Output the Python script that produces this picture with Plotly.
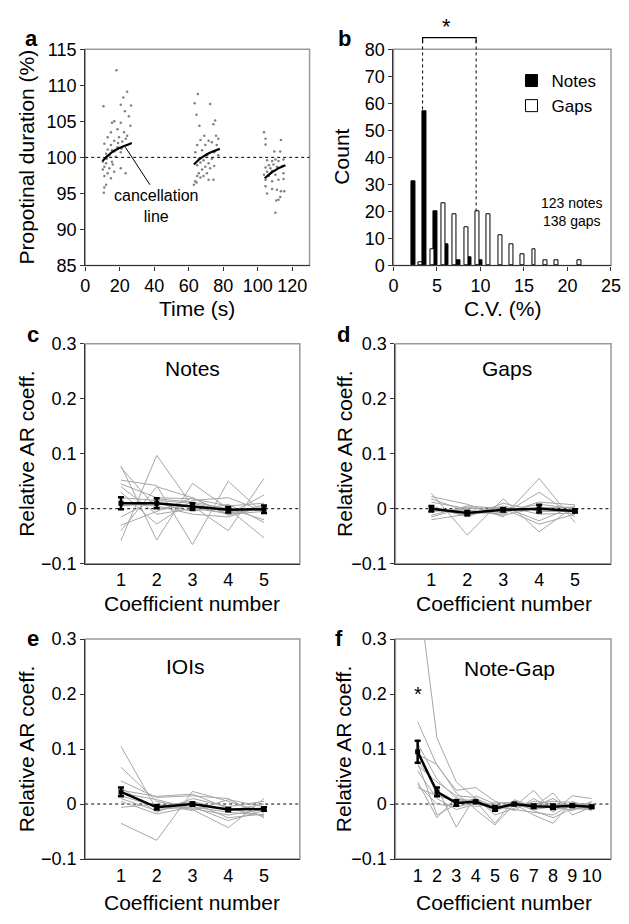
import plotly.graph_objects as go

# --- panel a: proportional duration of notes over time (three bouts) ---
bout1_t = [18.1, 24.3, 22.1, 20.6, 10.6, 26.6, 23.0, 16.8, 15.5, 20.6, 25.3, 26.2, 18.7, 14.9,
           22.5, 24.3, 13.0, 19.6, 16.8, 21.5, 11.1, 14.9, 18.7, 13.0, 15.5, 20.6, 12.1, 14.0,
           17.7, 10.2, 12.1, 15.5, 11.1, 14.0, 20.6, 10.2, 13.0, 16.8, 23.4, 11.1, 14.9, 12.1,
           11.1, 10.8, 17.0, 19.0, 21.0, 23.5, 12.5, 16.0]
bout1_v = [112.1, 109.1, 108.3, 107.3, 107.1, 107.2, 106.4, 105.0, 104.8, 104.8, 105.7, 104.4,
           103.9, 103.5, 103.5, 103.0, 102.8, 102.8, 102.3, 102.2, 101.9, 101.7, 101.4, 101.1,
           101.0, 100.7, 100.5, 100.3, 100.1, 99.4, 99.2, 99.4, 98.7, 98.5, 98.5, 98.3, 97.8,
           98.0, 97.8, 97.4, 97.1, 96.2, 95.8, 95.1, 100.8, 102.0, 101.2, 102.6, 99.8, 99.0]

bout2_t = [65.3, 63.4, 72.4, 64.5, 75.3, 74.3, 66.2, 69.0, 75.8, 77.1, 66.8, 71.5, 73.4, 64.9,
           69.6, 76.2, 67.7, 63.8, 74.7, 70.5, 77.1, 65.8, 68.6, 73.4, 66.8, 71.5, 64.9, 69.6,
           74.7, 67.7, 72.4, 65.8, 70.5, 64.9, 68.6, 74.3, 63.8, 66.8, 71.5, 63.0, 64.5]
bout2_v = [108.8, 107.5, 107.4, 105.9, 105.1, 104.6, 104.4, 103.0, 103.0, 102.6, 102.4, 102.3,
           102.1, 101.7, 101.7, 101.7, 101.0, 100.7, 100.7, 100.3, 100.3, 99.8, 99.6, 99.8, 99.3,
           99.2, 98.9, 98.7, 98.8, 98.3, 98.5, 97.8, 97.8, 97.4, 97.4, 96.9, 96.7, 97.2, 96.9,
           96.2, 96.5]

bout3_t = [103.6, 104.5, 113.4, 104.5, 109.6, 113.0, 105.4, 108.3, 110.2, 112.0, 114.9, 106.4,
           109.1, 104.5, 107.3, 111.1, 114.0, 105.4, 108.3, 103.6, 106.4, 110.2, 114.9, 104.5,
           112.0, 108.3, 114.9, 104.5, 105.4, 108.3, 111.1, 113.4, 115.3, 113.0, 112.0, 110.7,
           110.2]
bout3_v = [103.5, 102.6, 102.4, 101.8, 100.8, 100.8, 99.6, 99.5, 99.7, 99.5, 99.7, 98.9, 99.0,
           98.6, 98.5, 98.7, 98.8, 98.0, 98.1, 97.6, 97.4, 97.6, 97.8, 96.9, 96.9, 96.7, 97.0,
           96.0, 95.0, 95.6, 95.5, 95.3, 95.3, 94.5, 94.1, 94.0, 92.3]

cancel1_t = [10, 13, 16, 19, 22, 25, 27]
cancel1_v = [99.5, 100.2, 100.8, 101.2, 101.5, 101.8, 102.0]
cancel2_t = [63, 66, 69, 72, 75, 78]
cancel2_v = [99.0, 99.7, 100.2, 100.6, 100.9, 101.2]
cancel3_t = [104, 106, 108, 110, 112, 114, 116]
cancel3_v = [97.1, 97.5, 97.9, 98.2, 98.5, 98.7, 98.9]

# --- panel b: histogram of C.V. ---
notes_cv = [2.25, 3.55, 4.85, 6.15, 7.45, 8.75, 10.05]
notes_count = [31, 57, 20, 8, 2, 3, 2]
gaps_cv = [3.15, 4.45, 5.75, 7.05, 8.35, 9.65, 10.95, 12.25, 13.55, 14.85, 16.15, 17.45, 18.75, 21.35]
gaps_count = [1, 6, 23, 19, 14, 20, 19, 11, 8, 4, 6, 2, 2, 2]

# --- panels c-f: relative AR coefficients ---
coef5 = [1, 2, 3, 4, 5]
coef10 = [1, 2, 3, 4, 5, 6, 7, 8, 9, 10]

notes_lines = [
    [-0.058, 0.097, 0.005, -0.040, 0.055],
    [0.078, -0.057, 0.046, 0.000, -0.053],
    [0.052, 0.042, -0.065, 0.050, -0.010],
    [0.045, 0.020, 0.018, 0.005, 0.010],
    [-0.040, 0.040, 0.020, -0.010, 0.025],
    [0.030, -0.028, 0.015, 0.020, -0.005],
    [0.020, 0.015, 0.010, -0.005, 0.000],
    [0.010, 0.005, -0.010, -0.015, 0.005],
    [-0.015, 0.018, 0.012, 0.000, -0.020],
    [0.075, 0.000, 0.005, -0.010, -0.005],
    [-0.030, -0.005, 0.020, -0.012, 0.008],
    [0.005, 0.010, -0.005, 0.008, -0.025],
    [0.040, -0.010, 0.000, -0.008, 0.000],
]
notes_mean = [0.010, 0.010, 0.004, -0.002, -0.001]
notes_se = [0.011, 0.009, 0.006, 0.005, 0.007]

gaps_lines = [
    [0.028, -0.048, 0.018, -0.042, 0.005],
    [0.022, 0.008, -0.015, 0.055, -0.025],
    [0.018, -0.005, -0.010, 0.030, -0.015],
    [0.012, 0.000, 0.003, -0.022, 0.005],
    [-0.012, 0.005, 0.000, -0.028, -0.010],
    [-0.020, -0.010, -0.005, 0.008, 0.000],
    [0.005, -0.015, 0.010, -0.005, -0.005],
    [-0.005, -0.002, -0.012, 0.002, 0.003],
    [0.000, -0.012, 0.005, -0.010, -0.008],
    [-0.015, 0.003, -0.008, 0.012, 0.007],
]
gaps_mean = [0.000, -0.008, -0.002, 0.000, -0.004]
gaps_se = [0.005, 0.004, 0.003, 0.007, 0.003]

iois_lines = [
    [0.105, -0.010, -0.005, -0.015, -0.020],
    [0.067, 0.005, -0.010, -0.043, 0.010],
    [-0.035, -0.066, 0.023, 0.005, -0.015],
    [0.042, 0.012, 0.015, 0.010, -0.025],
    [0.030, -0.015, 0.010, -0.005, 0.005],
    [0.020, 0.008, -0.008, -0.020, -0.010],
    [0.010, -0.012, 0.003, -0.025, -0.018],
    [-0.006, 0.000, -0.012, 0.008, -0.005],
    [0.015, -0.005, 0.005, -0.012, 0.000],
    [0.005, -0.018, -0.005, -0.030, -0.012],
    [0.025, 0.014, 0.018, -0.008, -0.022],
]
iois_mean = [0.022, -0.006, 0.000, -0.010, -0.009]
iois_se = [0.008, 0.004, 0.003, 0.003, 0.003]

notegap_lines = [
    [0.400, 0.120, 0.040, 0.010, -0.005, 0.000, -0.010, -0.005, 0.000, -0.008],
    [0.150, 0.070, 0.025, 0.030, 0.005, -0.005, 0.025, -0.015, 0.015, 0.010],
    [0.110, 0.045, 0.010, 0.005, -0.035, 0.008, -0.005, 0.020, -0.020, -0.005],
    [0.090, 0.072, 0.020, -0.010, -0.038, 0.000, -0.020, -0.035, 0.005, -0.010],
    [0.080, 0.030, -0.042, 0.015, 0.000, -0.012, 0.010, -0.010, -0.005, 0.000],
    [0.075, -0.020, 0.000, 0.010, -0.015, 0.005, -0.005, 0.010, -0.010, -0.005],
    [0.060, 0.010, -0.010, 0.000, -0.005, -0.010, -0.015, -0.020, 0.000, -0.012],
    [0.040, -0.025, 0.012, -0.005, 0.002, 0.003, -0.008, -0.005, -0.012, 0.005],
    [0.030, 0.015, 0.005, 0.008, -0.010, -0.003, 0.000, 0.005, 0.003, -0.003],
    [0.035, 0.000, -0.005, 0.002, -0.008, 0.005, -0.012, -0.025, -0.008, -0.010],
    [0.070, 0.040, 0.015, 0.012, -0.020, -0.008, 0.005, 0.000, -0.003, 0.002],
]
notegap_mean = [0.095, 0.022, 0.002, 0.004, -0.008, 0.000, -0.004, -0.005, -0.003, -0.005]
notegap_se = [0.020, 0.008, 0.005, 0.002, 0.004, 0.002, 0.003, 0.004, 0.002, 0.002]

# page body has an 8px margin, so the figure is made 16px smaller than the window
# and target pixel positions are shifted by that margin
OFF = 8
W, H = 629 - 2 * OFF, 924 - 2 * OFF
FONT = "Liberation Sans, Arial, sans-serif"


def px(x):
    return (x - OFF) / W


def py(y):
    return 1 - (y - OFF) / H


def clamp(v):
    return min(1.0, max(0.0, v))


fig = go.Figure()

# panel a
for t, v in [(bout1_t, bout1_v), (bout2_t, bout2_v), (bout3_t, bout3_v)]:
    fig.add_trace(go.Scatter(x=t, y=v, mode="markers", xaxis="x", yaxis="y", showlegend=False,
                             marker=dict(size=2.5, color="#808080")))
for t, v in [(cancel1_t, cancel1_v), (cancel2_t, cancel2_v), (cancel3_t, cancel3_v)]:
    fig.add_trace(go.Scatter(x=t, y=v, mode="lines", xaxis="x", yaxis="y", showlegend=False,
                             line=dict(color="black", width=2.2, shape="spline")))
fig.add_trace(go.Scatter(x=[23.3, 37.5], y=[101.4, 96.2], mode="lines", xaxis="x", yaxis="y",
                         showlegend=False, line=dict(color="black", width=1)))

# panel b
fig.add_trace(go.Bar(x=notes_cv, y=notes_count, width=0.45, name="Notes", xaxis="x2", yaxis="y2",
                     marker=dict(color="black", line=dict(color="black", width=1))))
fig.add_trace(go.Bar(x=gaps_cv, y=gaps_count, width=0.45, name="Gaps", xaxis="x2", yaxis="y2",
                     marker=dict(color="white", line=dict(color="black", width=1))))

# panels c-f
ar_panels = [
    ("3", coef5, notes_lines, notes_mean, notes_se),
    ("4", coef5, gaps_lines, gaps_mean, gaps_se),
    ("5", coef5, iois_lines, iois_mean, iois_se),
    ("6", coef10, notegap_lines, notegap_mean, notegap_se),
]
for n, xs, lines, mean, se in ar_panels:
    for ln in lines:
        fig.add_trace(go.Scatter(x=xs, y=ln, mode="lines", xaxis="x" + n, yaxis="y" + n,
                                 showlegend=False, line=dict(color="#a6a6a6", width=1)))
    fig.add_trace(go.Scatter(x=xs, y=mean, mode="lines+markers", xaxis="x" + n, yaxis="y" + n,
                             showlegend=False, line=dict(color="black", width=2.5),
                             marker=dict(symbol="square", size=5, color="black"),
                             error_y=dict(type="data", array=se, color="black", thickness=2.5, width=3)))

tickfont = dict(family=FONT, size=18, color="black")
axis_common = dict(showline=True, linecolor="#333", linewidth=1.2, showgrid=False, zeroline=False,
                   tickfont=tickfont, ticks="outside", ticklen=4, tickcolor="#333")

domains = {
    "": ([82, 312], [40, 261]),
    "2": ([398, 622], [40, 261]),
    "3": ([82, 302], [341, 566]),
    "4": ([400, 621], [341, 566]),
    "5": ([82, 302], [643, 868]),
    "6": ([400, 621], [643, 868]),
}

layout_axes = {}
for key, (xd, yd) in domains.items():
    xa = "xaxis" + key
    ya = "yaxis" + key
    layout_axes[xa] = dict(axis_common, domain=[clamp(px(xd[0])), clamp(px(xd[1]))], anchor="y" + key)
    layout_axes[ya] = dict(axis_common, domain=[clamp(py(yd[1])), clamp(py(yd[0]))], anchor="x" + key)

layout_axes["xaxis"].update(range=[0, 130], tickvals=[0, 20, 40, 60, 80, 100, 120])
layout_axes["yaxis"].update(range=[85, 115], tickvals=[85, 90, 95, 100, 105, 110, 115])
layout_axes["xaxis2"].update(range=[0, 25], tickvals=[0, 5, 10, 15, 20, 25],
                             ticklabeloverflow="allow")
layout_axes["yaxis2"].update(range=[0, 80], tickvals=[0, 10, 20, 30, 40, 50, 60, 70, 80])
for n in ["3", "4", "5", "6"]:
    layout_axes["yaxis" + n].update(range=[-0.1, 0.3], tickvals=[-0.1, 0, 0.1, 0.2, 0.3],
                                    ticktext=["\u22120.1", "0", "0.1", "0.2", "0.3"])
    layout_axes["xaxis" + n].update(ticks="", tickvals=coef5)
    if n == "6":
        layout_axes["xaxis6"].update(range=[-0.15, 11], tickvals=coef10)
    else:
        layout_axes["xaxis" + n].update(range=[0, 6])

shapes = []
for key in domains:
    shapes.append(dict(type="rect", xref="x" + key + " domain", yref="y" + key + " domain",
                       x0=0, x1=1, y0=0, y1=1, line=dict(color="#999", width=1.5), layer="below"))
# reference lines
shapes.append(dict(type="line", xref="x domain", yref="y", x0=0, x1=1, y0=100, y1=100,
                   line=dict(color="black", width=1, dash="dot")))
for n in ["3", "4", "5", "6"]:
    shapes.append(dict(type="line", xref="x" + n + " domain", yref="y" + n, x0=0, x1=1, y0=0, y1=0,
                       line=dict(color="black", width=1, dash="dot"), layer="below"))
# significance bracket in b
for xv in [3.35, 9.5]:
    shapes.append(dict(type="line", xref="x2", yref="paper", x0=xv, x1=xv, y0=py(261), y1=py(28),
                       line=dict(color="black", width=1, dash="dot"), layer="below"))
shapes.append(dict(type="path", xref="x2", yref="paper",
                   path=f"M 3.35,{py(33)} L 3.35,{py(28)} L 9.5,{py(28)} L 9.5,{py(33)}",
                   line=dict(color="black", width=1.2)))

annotations = []


def ann(text, x, y, size, xref="paper", yref="paper", bold=False, angle=0, xanchor="center"):
    annotations.append(dict(text=f"<b>{text}</b>" if bold else text, x=x, y=y, xref=xref, yref=yref,
                            showarrow=False, textangle=angle, xanchor=xanchor, yanchor="middle",
                            font=dict(family=FONT, size=size, color="black")))


# panel letters
for letter, (lx, ly) in {"a": (27, 29), "b": (348, 29), "c": (28, 332), "d": (347, 332),
                         "e": (28, 642), "f": (342, 642)}.items():
    ann(letter, px(lx), py(ly), 22, bold=True)

# axis titles
ann("Propotinal duration (%)", px(22), py(150), 21, angle=-90)
ann("Time (s)", px(197), py(305), 21)
ann("Count", px(345), py(150), 21, angle=-90)
ann("C.V. (%)", px(510), py(305), 21)
for cx, cy in [(22, 453), (347, 453), (22, 755), (347, 755)]:
    ann("Relative AR coeff.", px(cx), py(cy), 21, angle=-90)
ann("Coefficient number", px(192), py(607), 21)
ann("Coefficient number", px(511), py(607), 21)
ann("Coefficient number", px(192), py(912), 21)
ann("Coefficient number", px(511), py(912), 21)

# in-panel text
ann("cancellation<br>line", 41.3, 93.2, 16, xref="x", yref="y")
ann("123 notes<br>138 gaps", 20.5, 19.9, 14, xref="x2", yref="y2")
ann("*", px(452), py(17), 22)
ann("Notes", 3.0, 0.254, 21, xref="x3", yref="y3")
ann("Gaps", 3.1, 0.254, 21, xref="x4", yref="y4")
ann("IOIs", 2.8, 0.25, 21, xref="x5", yref="y5")
ann("Note-Gap", 5.75, 0.247, 21, xref="x6", yref="y6")
ann("*", 1.0, 0.2, 20, xref="x6", yref="y6")

fig.update_layout(
    width=W, height=H, margin=dict(l=0, r=0, t=0, b=0),
    paper_bgcolor="white", plot_bgcolor="white",
    font=dict(family=FONT, color="black"),
    barmode="overlay", bargap=0,
    shapes=shapes, annotations=annotations,
    legend=dict(x=px(519), y=py(54), xanchor="left", yanchor="top", bgcolor="rgba(0,0,0,0)",
                font=dict(family=FONT, size=17, color="black"), tracegroupgap=0),
    **layout_axes,
)

fig.write_html("out.html")
